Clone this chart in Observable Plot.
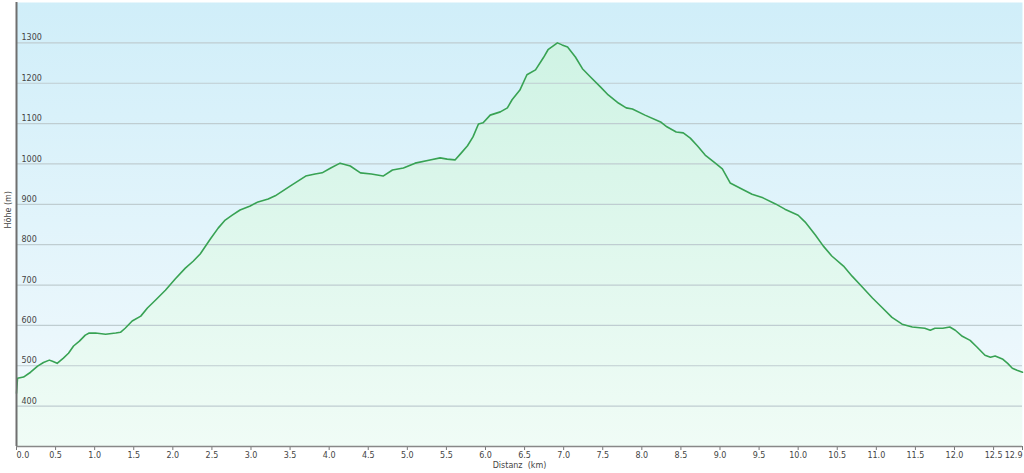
<!DOCTYPE html>
<html>
<head>
<meta charset="utf-8">
<script src="https://cdn.jsdelivr.net/npm/d3@7"></script>
<script src="https://cdn.jsdelivr.net/npm/@observablehq/plot@0.6"></script>
<style>
  html, body { margin: 0; padding: 0; background: #fff; }
  #chart svg { display: block; }
</style>
</head>
<body>
<div id="chart"></div>
<script>
const distKm = [0,0.013,0.09,0.18,0.27,0.345,0.42,0.46,0.52,0.60,0.665,0.73,0.805,0.88,0.93,1.01,1.14,1.27,1.33,1.39,1.48,1.59,1.675,1.78,1.905,2.03,2.16,2.26,2.35,2.48,2.58,2.67,2.76,2.86,2.99,3.09,3.22,3.31,3.50,3.70,3.82,3.91,4.02,4.14,4.27,4.40,4.54,4.69,4.81,4.95,5.10,5.29,5.42,5.51,5.61,5.68,5.77,5.84,5.91,5.97,6.06,6.19,6.28,6.34,6.44,6.53,6.64,6.74,6.80,6.92,6.98,7.05,7.15,7.24,7.34,7.47,7.57,7.70,7.80,7.88,8.04,8.24,8.32,8.44,8.53,8.62,8.71,8.81,8.94,9.03,9.13,9.26,9.41,9.55,9.71,9.83,10.00,10.09,10.22,10.32,10.43,10.58,10.69,10.82,10.95,11.07,11.20,11.33,11.46,11.62,11.69,11.75,11.85,11.94,12.01,12.10,12.20,12.29,12.39,12.46,12.52,12.62,12.68,12.74,12.80,12.87];
const elevM = [432,469,472,484,499,508,514,511,506,519,531,549,561,576,581,581,578,581,583,593,611,623,643,663,687,715,742,759,777,814,841,861,873,886,896,906,913,921,945,970,975,978,990,1002,995,978,975,970,985,990,1002,1010,1015,1012,1010,1025,1045,1067,1099,1102,1121,1129,1139,1159,1183,1221,1233,1263,1283,1300,1295,1290,1265,1236,1216,1191,1171,1151,1139,1136,1121,1104,1092,1079,1077,1064,1045,1022,1002,988,953,940,925,916,901,888,873,856,824,797,772,747,722,695,668,645,620,603,596,593,588,593,593,596,588,573,563,546,526,521,524,516,506,494,489,484];
const xTicks = [0,0.5,1,1.5,2,2.5,3,3.5,4,4.5,5,5.5,6,6.5,7,7.5,8,8.5,9,9.5,10,10.5,11,11.5,12,12.5,12.87];
const yTicks = [400,500,600,700,800,900,1000,1100,1200,1300];
const xLabel = "Distanz\u00a0 (km)";
const yLabel = "Höhe (m)";

const profile = distKm.map((d, i) => ({d, e: elevM[i]}));
const font = "DejaVu Sans, Verdana, sans-serif";
const fmtX = d => d.toFixed(1);
const xFirst = xTicks.slice(0, 1);
const xMid = xTicks.slice(1, -1);
const xLast = xTicks.slice(-1);
const xAxisOpts = {anchor: "bottom", tickSize: 4, tickPadding: 2, tickFormat: fmtX, label: null, stroke: "#777", fill: "#444", fontSize: 8};

const svg = Plot.plot({
  width: 1024,
  height: 473,
  marginTop: 2,
  marginLeft: 16,
  marginRight: 2,
  marginBottom: 27,
  style: {fontFamily: font, fontSize: "8px", color: "#444", background: "#fff"},
  x: {domain: [0, 12.87]},
  y: {domain: [300, 1400]},
  marks: [
    Plot.frame({fill: "url(#bgGrad)", stroke: null}),
    Plot.areaY(profile, {x: "d", y: "e", fill: "url(#areaGrad)", clip: true, curve: "linear"}),
    Plot.gridY(yTicks, {stroke: "#bfcdd1", strokeOpacity: 1, strokeWidth: 1.2}),
    Plot.lineY(profile, {x: "d", y: "e", stroke: "#38a254", strokeWidth: 1.6}),
    Plot.axisY(yTicks, {anchor: "left", tickSize: 0, tickPadding: 0, textAnchor: "start", dx: 5, dy: -5, tickFormat: d => String(d), label: null, fill: "#444", fontSize: 8}),
    Plot.axisX(xFirst, {...xAxisOpts, textAnchor: "start", dx: 0}),
    Plot.axisX(xMid, xAxisOpts),
    Plot.axisX(xLast, {...xAxisOpts, textAnchor: "end"}),
    Plot.ruleY([300], {stroke: "#888", strokeWidth: 1.5}),
    Plot.ruleX([0], {stroke: "#6f6f6f", strokeWidth: 2}),
    Plot.text([xLabel], {frameAnchor: "bottom", dy: 21, text: d => d, fill: "#444", fontSize: 8}),
    Plot.text([yLabel], {frameAnchor: "left", dx: -8, dy: 4, rotate: -90, text: d => d, fill: "#444", fontSize: 8})
  ]
});

const defs = d3.select(svg).insert("defs", ":first-child");
const bg = defs.append("linearGradient").attr("id", "bgGrad")
  .attr("gradientUnits", "userSpaceOnUse").attr("x1", 0).attr("y1", 2).attr("x2", 0).attr("y2", 446);
bg.append("stop").attr("offset", "0%").attr("stop-color", "#d0eef9");
bg.append("stop").attr("offset", "100%").attr("stop-color", "#f3fafd");
const ar = defs.append("linearGradient").attr("id", "areaGrad")
  .attr("gradientUnits", "userSpaceOnUse").attr("x1", 0).attr("y1", 40).attr("x2", 0).attr("y2", 446);
ar.append("stop").attr("offset", "0%").attr("stop-color", "#cff3e4");
ar.append("stop").attr("offset", "100%").attr("stop-color", "#f0fcf6");

document.getElementById("chart").appendChild(svg);
</script>
</body>
</html>
